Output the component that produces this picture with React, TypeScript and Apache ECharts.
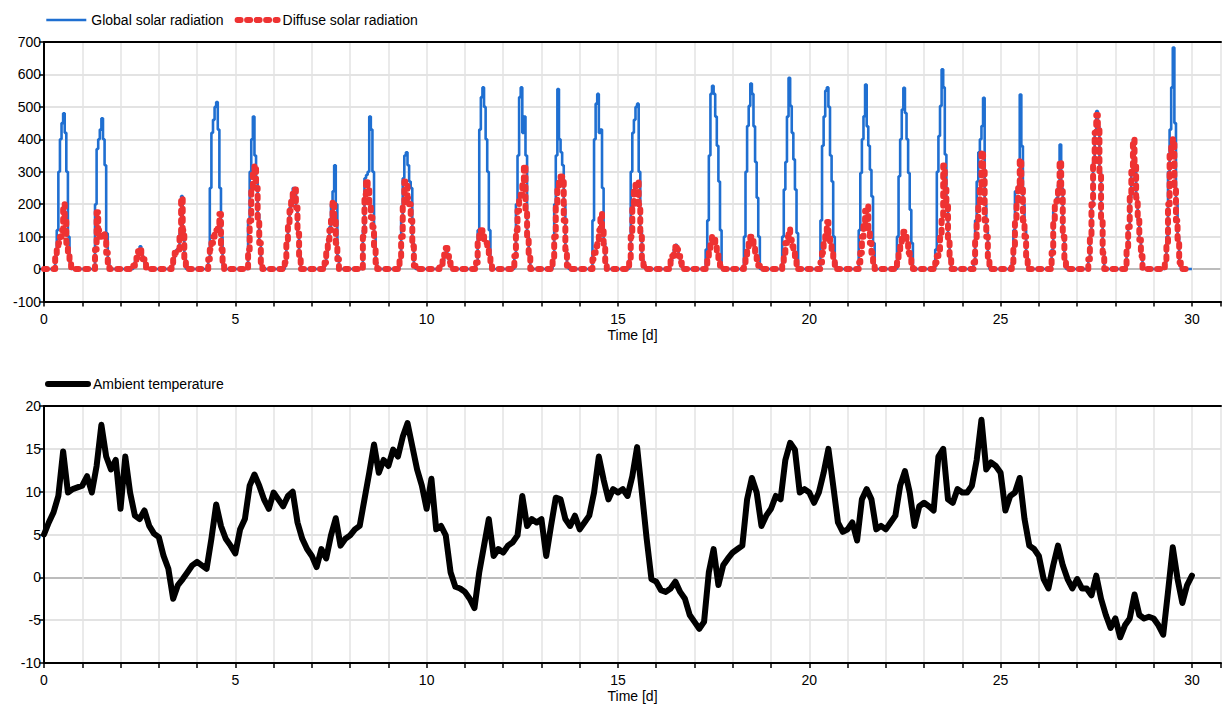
import React, { useEffect, useRef } from "react";
import * as echarts from "echarts";

// Daytime hourly slots (07:00 ... 17:00); all other hours are 0 W/m².
const FIRST_HOUR = 7;

// Global solar radiation [W/m²], one row per day, hourly slots 07..17
const globalByDay: number[][] = [
  [40, 120, 300, 400, 450, 480, 420, 300, 100, 20, 0],
  [0, 200, 370, 400, 430, 465, 400, 320, 110, 30, 0],
  [0, 10, 25, 40, 60, 70, 45, 30, 15, 5, 0],
  [0, 10, 30, 55, 60, 65, 110, 225, 125, 30, 0],
  [30, 250, 420, 460, 500, 515, 430, 250, 100, 10, 0],
  [0, 150, 300, 400, 470, 350, 280, 170, 80, 10, 0],
  [20, 80, 140, 190, 220, 250, 250, 190, 110, 40, 0],
  [0, 20, 50, 90, 130, 200, 240, 320, 200, 40, 0],
  [0, 120, 280, 290, 300, 470, 430, 300, 100, 20, 0],
  [30, 150, 280, 350, 360, 320, 270, 250, 80, 10, 0],
  [0, 5, 15, 25, 45, 65, 40, 20, 10, 0, 0],
  [20, 120, 430, 530, 560, 500, 400, 300, 120, 10, 0],
  [40, 200, 350, 530, 560, 420, 470, 350, 100, 40, 0],
  [30, 200, 350, 555, 400, 360, 320, 200, 60, 10, 0],
  [0, 150, 400, 510, 540, 420, 430, 250, 80, 20, 0],
  [30, 300, 420, 460, 500, 510, 300, 120, 30, 10, 0],
  [0, 10, 25, 40, 60, 75, 60, 40, 20, 5, 0],
  [60, 150, 350, 540, 565, 540, 470, 380, 270, 120, 0],
  [100, 300, 441, 503, 572, 540, 440, 330, 220, 100, 0],
  [100, 245, 330, 470, 590, 503, 420, 338, 245, 111, 0],
  [150, 380, 470, 550, 560, 500, 350, 270, 100, 20, 0],
  [120, 296, 400, 471, 569, 440, 380, 306, 224, 80, 0],
  [100, 286, 400, 492, 559, 481, 400, 296, 183, 80, 0],
  [60, 300, 410, 503, 616, 560, 353, 200, 90, 30, 0],
  [20, 150, 270, 360, 400, 441, 528, 200, 120, 30, 0],
  [20, 120, 240, 235, 260, 538, 379, 200, 120, 40, 0],
  [0, 60, 180, 200, 220, 260, 384, 250, 100, 30, 0],
  [30, 100, 200, 330, 420, 487, 440, 300, 150, 50, 0],
  [60, 130, 220, 300, 400, 320, 220, 150, 90, 40, 0],
  [20, 100, 300, 430, 560, 683, 450, 200, 100, 20, 0],
];

// Diffuse solar radiation [W/m²], one row per day, hourly slots 07..17
const diffuseByDay: number[][] = [
  [40, 70, 80, 100, 120, 200, 150, 80, 50, 20, 0],
  [0, 60, 175, 120, 100, 110, 110, 100, 50, 10, 0],
  [0, 10, 20, 35, 55, 65, 40, 30, 15, 5, 0],
  [0, 10, 30, 50, 55, 60, 100, 220, 120, 30, 0],
  [30, 60, 80, 100, 110, 120, 140, 170, 60, 10, 0],
  [0, 60, 150, 250, 300, 320, 250, 150, 80, 10, 0],
  [20, 80, 140, 180, 210, 240, 245, 190, 110, 40, 0],
  [0, 20, 50, 90, 120, 150, 210, 150, 80, 30, 0],
  [0, 100, 230, 275, 250, 200, 160, 130, 70, 20, 0],
  [30, 100, 200, 270, 270, 220, 200, 150, 70, 10, 0],
  [0, 5, 15, 25, 45, 65, 40, 20, 10, 0, 0],
  [20, 90, 110, 120, 110, 90, 80, 70, 40, 10, 0],
  [40, 120, 180, 220, 230, 260, 320, 180, 100, 40, 0],
  [30, 100, 200, 250, 280, 285, 270, 150, 60, 10, 0],
  [0, 30, 50, 70, 90, 120, 170, 130, 70, 20, 0],
  [30, 100, 200, 250, 260, 270, 200, 100, 30, 10, 0],
  [0, 10, 25, 40, 60, 75, 60, 40, 20, 5, 0],
  [10, 40, 60, 80, 100, 90, 70, 50, 30, 10, 0],
  [20, 40, 60, 80, 100, 95, 70, 50, 30, 10, 0],
  [20, 50, 80, 100, 122, 90, 70, 50, 30, 15, 0],
  [20, 50, 80, 110, 145, 110, 80, 50, 30, 10, 0],
  [20, 50, 100, 140, 180, 195, 120, 80, 50, 20, 0],
  [20, 50, 80, 100, 115, 100, 80, 50, 30, 10, 0],
  [20, 40, 60, 100, 150, 319, 245, 194, 90, 30, 0],
  [20, 90, 150, 200, 250, 363, 300, 150, 100, 30, 0],
  [20, 60, 150, 200, 250, 338, 250, 150, 100, 30, 0],
  [0, 50, 150, 200, 210, 250, 333, 240, 100, 30, 0],
  [30, 100, 200, 330, 420, 475, 440, 300, 150, 50, 0],
  [60, 130, 220, 300, 400, 320, 220, 150, 90, 40, 0],
  [20, 80, 200, 350, 380, 400, 250, 150, 80, 20, 0],
];

// Ambient temperature [°C], sampled every 3 h from day 0 to day 30
const TEMP_STEP_DAYS = 0.125;
const ambientTemp: number[] = [
  5.0, 6.4, 7.6, 9.5, 14.7, 9.9, 10.3, 10.5,
  10.7, 11.8, 9.9, 13.0, 17.8, 14.1, 12.6, 13.7,
  8.0, 14.1, 9.9, 7.2, 6.8, 7.8, 6.0, 5.1,
  4.7, 2.5, 1.0, -2.5, -0.9, -0.2, 0.6, 1.4,
  1.8, 1.4, 1.0, 4.5, 8.5, 6.0, 4.5, 3.7,
  2.8, 5.6, 6.8, 10.7, 12.0, 10.7, 9.1, 8.0,
  9.9, 9.1, 8.3, 9.5, 10.0, 6.4, 4.5, 3.3,
  2.5, 1.2, 3.3, 2.2, 4.9, 6.9, 3.7, 4.5,
  4.9, 5.6, 6.0, 9.1, 12.2, 15.5, 12.2, 13.7,
  13.0, 14.9, 14.1, 16.4, 18.0, 15.3, 12.6, 10.7,
  8.0, 11.5, 5.6, 6.0, 4.9, 0.6, -1.1, -1.3,
  -1.7, -2.5, -3.6, 0.6, 3.7, 6.8, 2.5, 3.3,
  2.9, 3.7, 4.1, 4.9, 9.5, 6.0, 6.8, 6.4,
  6.8, 2.5, 6.0, 9.3, 9.1, 6.8, 6.0, 7.2,
  5.6, 6.4, 7.2, 9.9, 14.1, 11.4, 9.1, 10.3,
  9.9, 10.3, 9.5, 11.8, 15.2, 9.9, 4.5, -0.2,
  -0.5, -1.5, -1.7, -1.3, -0.5, -1.7, -2.5, -4.4,
  -5.2, -6.0, -5.2, 0.6, 3.3, -0.9, 1.4, 2.2,
  2.9, 3.3, 3.7, 9.1, 11.6, 9.9, 6.0, 7.2,
  8.0, 9.5, 9.1, 13.7, 15.7, 14.9, 9.9, 10.3,
  9.9, 8.7, 9.9, 12.2, 15.0, 10.7, 6.4, 5.3,
  5.6, 6.4, 4.3, 9.1, 10.3, 9.1, 5.6, 6.0,
  5.6, 6.4, 7.2, 10.7, 12.4, 9.9, 6.0, 8.3,
  8.7, 8.3, 7.8, 14.1, 15.0, 9.1, 8.7, 10.3,
  9.9, 9.9, 10.7, 13.7, 18.4, 12.6, 13.4, 13.0,
  12.2, 7.8, 9.5, 9.9, 11.6, 6.8, 3.7, 3.3,
  2.5, -0.2, -1.3, 1.4, 3.7, 1.4, -0.2, -1.3,
  -0.2, -1.3, -1.3, -2.1, 0.2, -2.5, -4.4, -5.9,
  -4.8, -7.0, -5.6, -4.8, -2.0, -4.4, -4.8, -4.6,
  -4.8, -5.6, -6.7, -1.7, 3.5, -0.2, -3.0, -0.9,
  0.2,
];

const X_MAX = 30.76;
const FONT = "'Liberation Sans', Arial, Helvetica, sans-serif";
const BLUE = "#1f6fd1";
const RED = "#ee3232";
const GRID_GRAY = "#e3e3e3";
const ZERO_GRAY = "#bcbcbc";

function hourlySeries(byDay: number[][]): [number, number][] {
  const pts: [number, number][] = [];
  byDay.forEach((row, d) => {
    for (let h = 0; h < 24; h++) {
      const k = h - FIRST_HOUR;
      const v = k >= 0 && k < row.length ? row[k] : 0;
      pts.push([d + h / 24, v]);
    }
  });
  pts.push([byDay.length, 0]);
  return pts;
}

function tempSeries(): [number, number][] {
  return ambientTemp.map((v, i) => [i * TEMP_STEP_DAYS, v]);
}

const textStyle = { color: "#000", fontSize: 14, fontFamily: FONT };

function bottomAxis(gridIndex: number) {
  return {
    type: "value" as const,
    gridIndex,
    min: 0,
    max: X_MAX,
    interval: 1,
    name: "Time [d]",
    nameLocation: "middle" as const,
    nameGap: 26,
    nameTextStyle: textStyle,
    axisLine: { show: true, onZero: false, lineStyle: { color: "#000", width: 2 } },
    axisTick: { show: true, length: 5, lineStyle: { color: "#000", width: 1.5 } },
    axisLabel: {
      ...textStyle,
      margin: 10,
      formatter: (v: number) => (Math.abs(v % 5) < 1e-9 ? String(v) : ""),
    },
    splitLine: { show: true, lineStyle: { color: GRID_GRAY, width: 1.5 } },
  };
}

function topBorder(gridIndex: number) {
  return {
    type: "value" as const,
    gridIndex,
    position: "top" as const,
    min: 0,
    max: X_MAX,
    axisLine: { show: true, onZero: false, lineStyle: { color: "#000", width: 2 } },
    axisTick: { show: false },
    axisLabel: { show: false },
    splitLine: { show: false },
  };
}

function leftAxis(gridIndex: number, min: number, max: number, interval: number) {
  const n = Math.round((max - min) / interval) + 1;
  const colors: string[] = [];
  for (let i = 0; i < n; i++) {
    colors.push(Math.abs(min + i * interval) < 1e-9 ? ZERO_GRAY : GRID_GRAY);
  }
  return {
    type: "value" as const,
    gridIndex,
    min,
    max,
    interval,
    axisLine: { show: true, onZero: false, lineStyle: { color: "#000", width: 2 } },
    axisTick: { show: true, length: 5, lineStyle: { color: "#000", width: 1.5 } },
    axisLabel: { ...textStyle, margin: 3 },
    splitLine: { show: true, lineStyle: { color: colors, width: 2 } },
  };
}

const legendBase = {
  itemWidth: 40,
  itemHeight: 14,
  itemGap: 11,
  // hide the marker circle, keep only the line sample drawn like the series
  itemStyle: { opacity: 0 },
  lineStyle: { width: "inherit", type: "inherit", cap: "inherit" },
  textStyle,
};

export default function App() {
  const ref = useRef<HTMLDivElement>(null);

  useEffect(() => {
    if (!ref.current) return;
    const chart = echarts.init(ref.current, undefined, { renderer: "svg" });
    chart.setOption({
      animation: false,
      backgroundColor: "#fff",
      grid: [
        { left: 44, top: 42, width: 1180, height: 259.5 },
        { left: 44, top: 406, width: 1180, height: 259 },
      ],
      legend: [
        {
          ...legendBase,
          data: ["Global solar radiation", "Diffuse solar radiation"],
          left: 40,
          top: 8,
        },
        {
          ...legendBase,
          data: ["Ambient temperature"],
          left: 40,
          top: 372,
        },
      ],
      xAxis: [bottomAxis(0), topBorder(0), bottomAxis(1), topBorder(1)],
      yAxis: [leftAxis(0, -100, 700, 100), leftAxis(1, -10, 20, 5)],
      series: [
        {
          name: "Global solar radiation",
          type: "line",
          xAxisIndex: 0,
          yAxisIndex: 0,
          step: "end",
          symbol: "none",
          showSymbol: false,
          lineStyle: { color: BLUE, width: 2.6 },
          itemStyle: { color: BLUE },
          data: hourlySeries(globalByDay),
        },
        {
          name: "Diffuse solar radiation",
          type: "line",
          xAxisIndex: 0,
          yAxisIndex: 0,
          step: "end",
          symbol: "none",
          showSymbol: false,
          lineStyle: { color: RED, width: 6, type: [3, 6.5], cap: "round", join: "round" },
          itemStyle: { color: RED },
          data: hourlySeries(diffuseByDay),
        },
        {
          name: "Ambient temperature",
          type: "line",
          xAxisIndex: 2,
          yAxisIndex: 1,
          symbol: "none",
          showSymbol: false,
          lineStyle: { color: "#000", width: 6, join: "round", cap: "round" },
          itemStyle: { color: "#000" },
          data: tempSeries(),
        },
      ],
    });
    return () => chart.dispose();
  }, []);

  return (
    <div
      ref={ref}
      style={{ position: "fixed", left: 0, top: 0, width: 1224, height: 704, background: "#fff" }}
    />
  );
}
